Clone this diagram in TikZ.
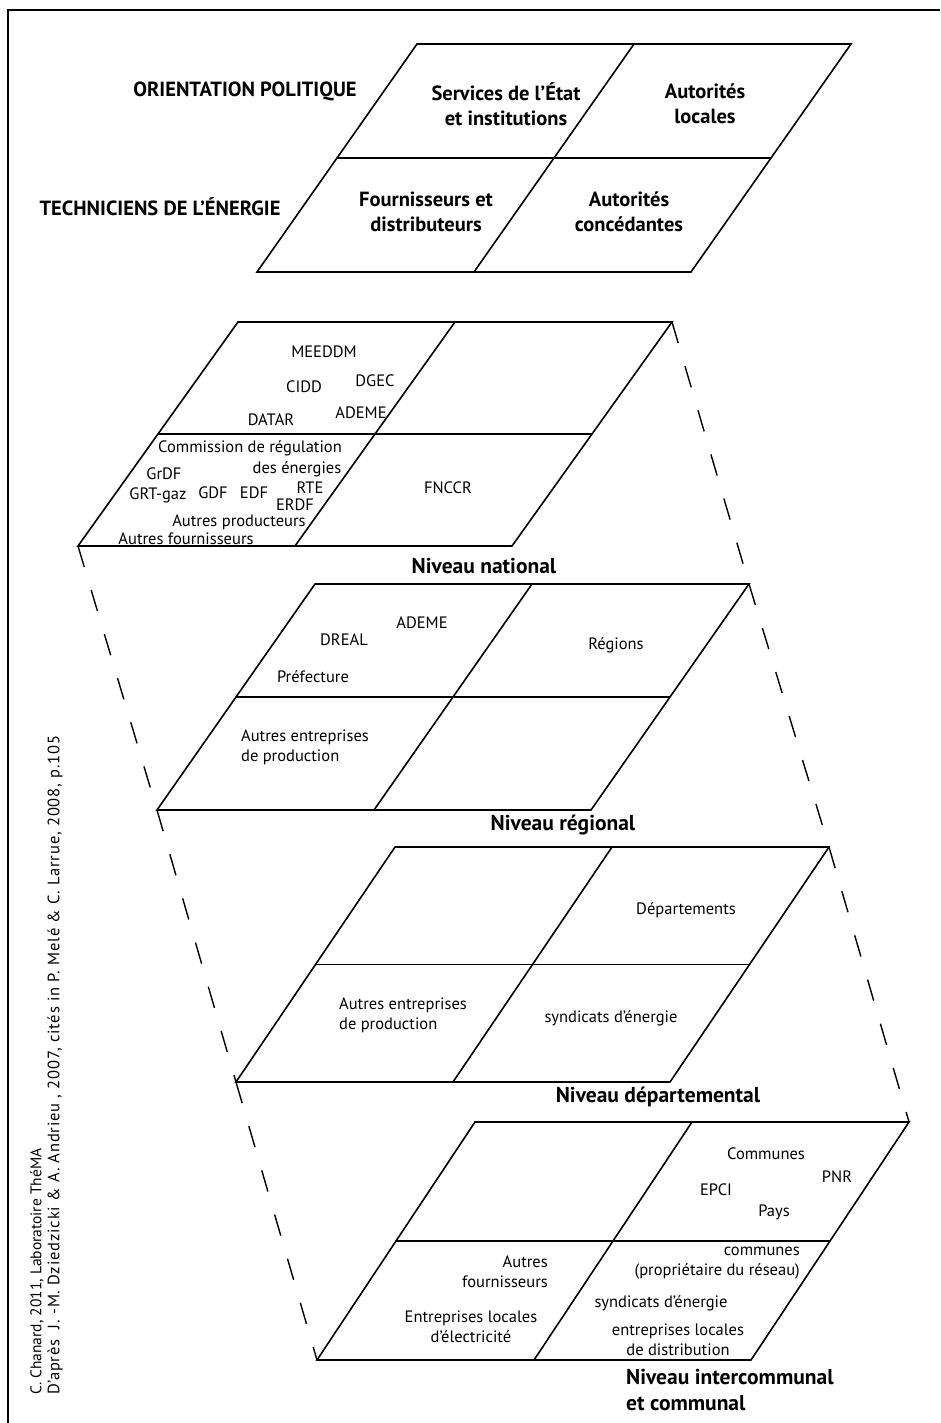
\documentclass[tikz,border=0pt]{standalone}
\usepackage{fontspec}
\setmainfont{PT Sans}
\usetikzlibrary{calc}

\begin{document}
\begin{tikzpicture}[x=1pt, y=-1pt,
		plan/.style={line width=1.6pt, line join=miter},
		guide/.style={line width=1.4pt, dash pattern=on 22pt off 24pt},
		lbl/.style={font=\fontsize{16.5}{20}\selectfont, inner sep=0pt},
		head/.style={font=\bfseries\fontsize{20.5}{25}\selectfont, inner sep=0pt},
		lvl/.style={font=\bfseries\fontsize{21.5}{26}\selectfont, inner sep=0pt},
		credit/.style={font=\fontsize{15.5}{18}\selectfont, inner sep=0pt, rotate=90, anchor=west}]
		\useasboundingbox (0,0) rectangle (940,1423);
		\draw[line width=2pt] (8,1423) -- (8,10) -- (940,10);
		
		% the five planes
		\foreach \lv/\xt/\yt/\xb/\yb in {top/417/44/257/272, nat/238/322/78/546, reg/315/584/157/810, dep/395/847/236/1082, com/475/1122/317/1360} {
			\coordinate (\lv-tl) at (\xt,\yt);
			\coordinate (\lv-tr) at (\xt+434,\yt);
			\coordinate (\lv-bl) at (\xb,\yb);
			\coordinate (\lv-br) at (\xb+434,\yb);
			\draw[plan] (\lv-tl) -- (\lv-tr) -- (\lv-br) -- (\lv-bl) -- cycle;
			\draw[plan] ($(\lv-tl)!.5!(\lv-bl)$) -- ($(\lv-tr)!.5!(\lv-br)$);
			\draw[plan] ($(\lv-tl)!.5!(\lv-tr)$) -- ($(\lv-bl)!.5!(\lv-br)$);
		}
		
		\path (nat-bl) edge[guide] (reg-bl);
		\path (reg-bl) edge[guide] (dep-bl);
		\path (dep-bl) edge[guide] (com-bl);
		\path (nat-tr) edge[guide] (reg-tr);
		\path (reg-tr) edge[guide] (dep-tr);
		\path (dep-tr) edge[guide] (com-tr);
		
		% header
		\node[head] (orient) at (245,91) {ORIENTATION POLITIQUE};
		\node[head] (techn) at (160,207) {TECHNICIENS DE L'ÉNERGIE};
		\node[head, align=center] (serv) at (506,104) {Services de l'État\\et institutions};
		\node[head, align=center] (autloc) at (705,104) {Autorités\\locales};
		\node[head, align=center] (fourn) at (426,212) {Fournisseurs et\\distributeurs};
		\node[head, align=center] (autconc) at (629,212) {Autorités\\concédantes};
		
		% national
		\node[lbl] (meeddm) at (324,352) {MEEDDM};
		\node[lbl] (cidd) at (304,387) {CIDD};
		\node[lbl] (dgec) at (375,381) {DGEC};
		\node[lbl] (datar) at (271,420) {DATAR};
		\node[lbl] (ademe) at (361,413) {ADEME};
		\node[lbl] (cre) at (250,448) {Commission de régulation};
		\node[lbl] (cre2) at (297,469) {des énergies};
		\node[lbl] (grdf) at (164,474) {GrDF};
		\node[lbl] (grt) at (158,495) {GRT-gaz};
		\node[lbl] (gdf) at (213,493) {GDF};
		\node[lbl] (edf) at (254,493) {EDF};
		\node[lbl] (rte) at (310,488) {RTE};
		\node[lbl] (erdf) at (295,505) {ERDF};
		\node[lbl] (autprod) at (239,522) {Autres producteurs};
		\node[lbl] (autfourn) at (186,539) {Autres fournisseurs};
		\node[lbl] (fnccr) at (448,488) {FNCCR};
		\node[lvl] (natlbl) at (484,566) {Niveau national};
		
		% regional
		\node[lbl] (ademe2) at (422,623) {ADEME};
		\node[lbl] (dreal) at (344,640) {DREAL};
		\node[lbl] (pref) at (313,677) {Préfecture};
		\node[lbl] (regions) at (616,645) {Régions};
		\node[lbl, align=left] (autent) at (305,747) {Autres entreprises\\de production};
		\node[lvl] (reglbl) at (563,825) {Niveau régional};
		
		% departmental
		\node[lbl] (depts) at (686,910) {Départements};
		\node[lbl, align=left] (autent2) at (403,1015) {Autres entreprises\\de production};
		\node[lbl] (synd) at (611,1018) {syndicats d'énergie};
		\node[lvl] (deplbl) at (658,1097) {Niveau départemental};
		
		% communal
		\node[lbl] (communes) at (766,1154) {Communes};
		\node[lbl] (pnr) at (837,1177) {PNR};
		\node[lbl] (epci) at (716,1190) {EPCI};
		\node[lbl] (pays) at (774,1212) {Pays};
		\node[lbl, align=right, anchor=east] (autfourn2) at (548,1272) {Autres\\fournisseurs};
		\node[lbl, align=center] (entloc) at (471,1327) {Entreprises locales\\d'électricité};
		\node[lbl, align=right, anchor=east] (comm) at (800,1263) {communes\\(propriétaire du réseau)};
		\node[lbl] (synd2) at (661,1303) {syndicats d'énergie};
		\node[lbl, align=center] (entdist) at (678,1340) {entreprises locales\\de distribution};
		\node[lvl, align=left, anchor=west] (comlbl) at (626,1390) {Niveau intercommunal\\et communal};
		
		% source
		\node[credit] (src1) at (37,1395) {C. Chanard, 2011, Laboratoire ThéMA};
		\node[credit, font=\fontsize{16.5}{18}\selectfont\addfontfeature{LetterSpace=5}] (src2) at (55,1395) {D'après~ J. -M. Dziedzicki \& A. Andrieu , 2007, cités in P. Melé \& C. Larrue, 2008, p.105};
	\end{tikzpicture}
\end{document}
